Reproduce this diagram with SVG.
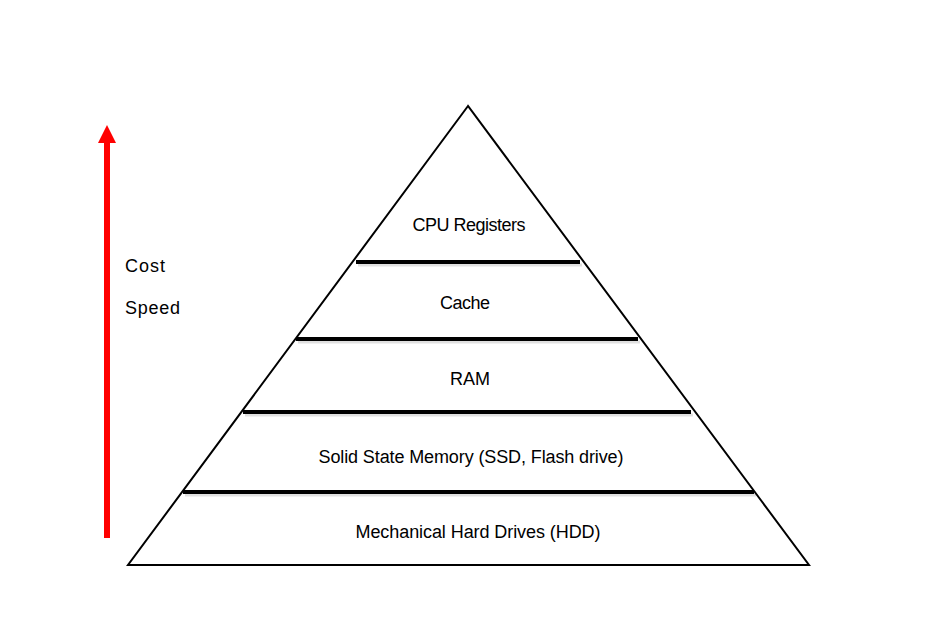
<svg xmlns="http://www.w3.org/2000/svg" width="925" height="639" viewBox="0 0 925 639">
<style>
.lbl{font-family:"Liberation Sans",Arial,sans-serif;font-size:18px;fill:#000}
.c{text-anchor:middle}
.sep{stroke:#000;stroke-width:4}
.sh{stroke:#000;stroke-opacity:0.12;stroke-width:3}
</style>
<rect width="925" height="639" fill="#fff"/>
<g id="pyramid">
<polygon points="468,106 128,565 809,565" fill="#fff" stroke="#000" stroke-width="2"/>
</g>
<g id="connectors">
<line class="sh" x1="358" y1="265" x2="582" y2="265"/>
<line class="sep" x1="356" y1="262" x2="580" y2="262"/>
<line class="sh" x1="298" y1="342" x2="640" y2="342"/>
<line class="sep" x1="296" y1="339" x2="638" y2="339"/>
<line class="sh" x1="245" y1="415" x2="693" y2="415"/>
<line class="sep" x1="243" y1="412" x2="691" y2="412"/>
<line class="sh" x1="185" y1="495" x2="756" y2="495"/>
<line class="sep" x1="183" y1="492" x2="754" y2="492"/>
</g>
<g id="arrow">
<rect x="104" y="141" width="6" height="397" fill="#ff0000"/>
<polygon points="107,125 116,143 98,143" fill="#ff0000"/>
</g>
<g id="layer-cpu"><text class="lbl c" x="469" y="231" textLength="113">CPU Registers</text></g>
<g id="layer-cache"><text class="lbl c" x="465" y="309" textLength="50">Cache</text></g>
<g id="layer-ram"><text class="lbl c" x="470" y="385" textLength="40">RAM</text></g>
<g id="layer-ssd"><text class="lbl c" x="471" y="463" textLength="305">Solid State Memory (SSD, Flash drive)</text></g>
<g id="layer-hdd"><text class="lbl c" x="478" y="538" textLength="245">Mechanical Hard Drives (HDD)</text></g>
<g id="axis-labels">
<text class="lbl" x="125" y="272" textLength="40">Cost</text>
<text class="lbl" x="125" y="314" textLength="55">Speed</text>
</g>
</svg>
